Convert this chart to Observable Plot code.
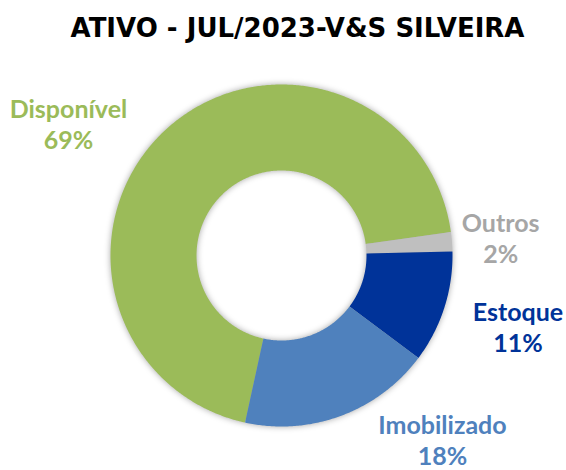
<!DOCTYPE html>
<html>
<head>
<meta charset="utf-8">
<script src="https://cdn.jsdelivr.net/npm/d3@7"></script>
<script src="https://cdn.jsdelivr.net/npm/@observablehq/plot@0.6"></script>
<style>
  html, body { margin: 0; padding: 0; background: #fff; }
  #chart { width: 566px; height: 470px; }
</style>
</head>
<body>
<div id="chart"></div>
<script>
// ---- data ----
const title = "ATIVO - JUL/2023-V&S SILVEIRA";
const categories = ["Disponível", "Outros", "Estoque", "Imobilizado"];
const values = [69.4, 1.8, 10.6, 18.2];
const sliceColors = ["#9BBB59", "#BFBFBF", "#003399", "#4F81BD"];
const labelColors = ["#9BBB59", "#A6A6A6", "#003399", "#4F81BD"];

// ---- layout ----
const W = 566, H = 470;
const CX = 281, CY = 255, R = 171, R0 = 85;
const startDeg = 192.3;
const labelR = 243;
const labelNudge = {
  "Disponível": [-48, 46],
  "Outros": [-23, 2],
  "Estoque": [5, -3],
  "Imobilizado": [76, -44]
};

const rows = categories.map((name, i) => ({
  name, value: values[i], color: sliceColors[i], labelColor: labelColors[i]
}));

const a0 = startDeg * Math.PI / 180;
const arcs = d3.pie().sort(null).value(d => d.value)
  .startAngle(a0).endAngle(a0 + 2 * Math.PI)(rows);

// polygon vertices of each ring slice (outer arc forward, inner arc back)
const slicePts = [];
for (const a of arcs) {
  const n = Math.max(2, Math.ceil((a.endAngle - a.startAngle) * 180 / Math.PI * 2));
  const ts = d3.range(n + 1).map(k => a.startAngle + (a.endAngle - a.startAngle) * k / n);
  for (const t of ts) slicePts.push({name: a.data.name, color: a.data.color, x: Math.sin(t) * R, y: -Math.cos(t) * R});
  for (const t of ts.slice().reverse()) slicePts.push({name: a.data.name, color: a.data.color, x: Math.sin(t) * R0, y: -Math.cos(t) * R0});
}

const labels = arcs.map(a => {
  const m = (a.startAngle + a.endAngle) / 2;
  const [dx, dy] = labelNudge[a.data.name];
  return {
    text: a.data.name + "\n" + Math.round(a.data.value) + "%",
    color: a.data.labelColor,
    x: Math.sin(m) * labelR + dx,
    y: -Math.cos(m) * labelR + dy
  };
});

const chart = Plot.plot({
  width: W, height: H,
  margin: 0,
  x: {domain: [-CX, W - CX], range: [0, W], axis: null},
  y: {domain: [-CY, H - CY], range: [0, H], axis: null},
  color: {type: "identity"},
  style: {background: "#fff"},
  marks: [
    Plot.line(slicePts, {
      x: "x", y: "y", z: "name", fill: "color", stroke: "none",
      imageFilter: "drop-shadow(0px 0px 3px rgba(0,0,0,0.35))"
    }),
    Plot.text(labels, {
      x: "x", y: "y", text: "text", fill: "color",
      fontFamily: "Lato, 'Open Sans', sans-serif", fontWeight: "bold",
      fontSize: 25, lineHeight: 1.24, textAnchor: "middle", lineAnchor: "middle"
    }),
    Plot.text([title], {
      frameAnchor: "top", text: d => d, dx: 14, dy: 28,
      fill: "#000", fontFamily: "'DejaVu Sans', sans-serif",
      fontWeight: "bold", fontSize: 26, lineAnchor: "middle"
    })
  ]
});
document.getElementById("chart").appendChild(chart);
</script>
</body>
</html>
